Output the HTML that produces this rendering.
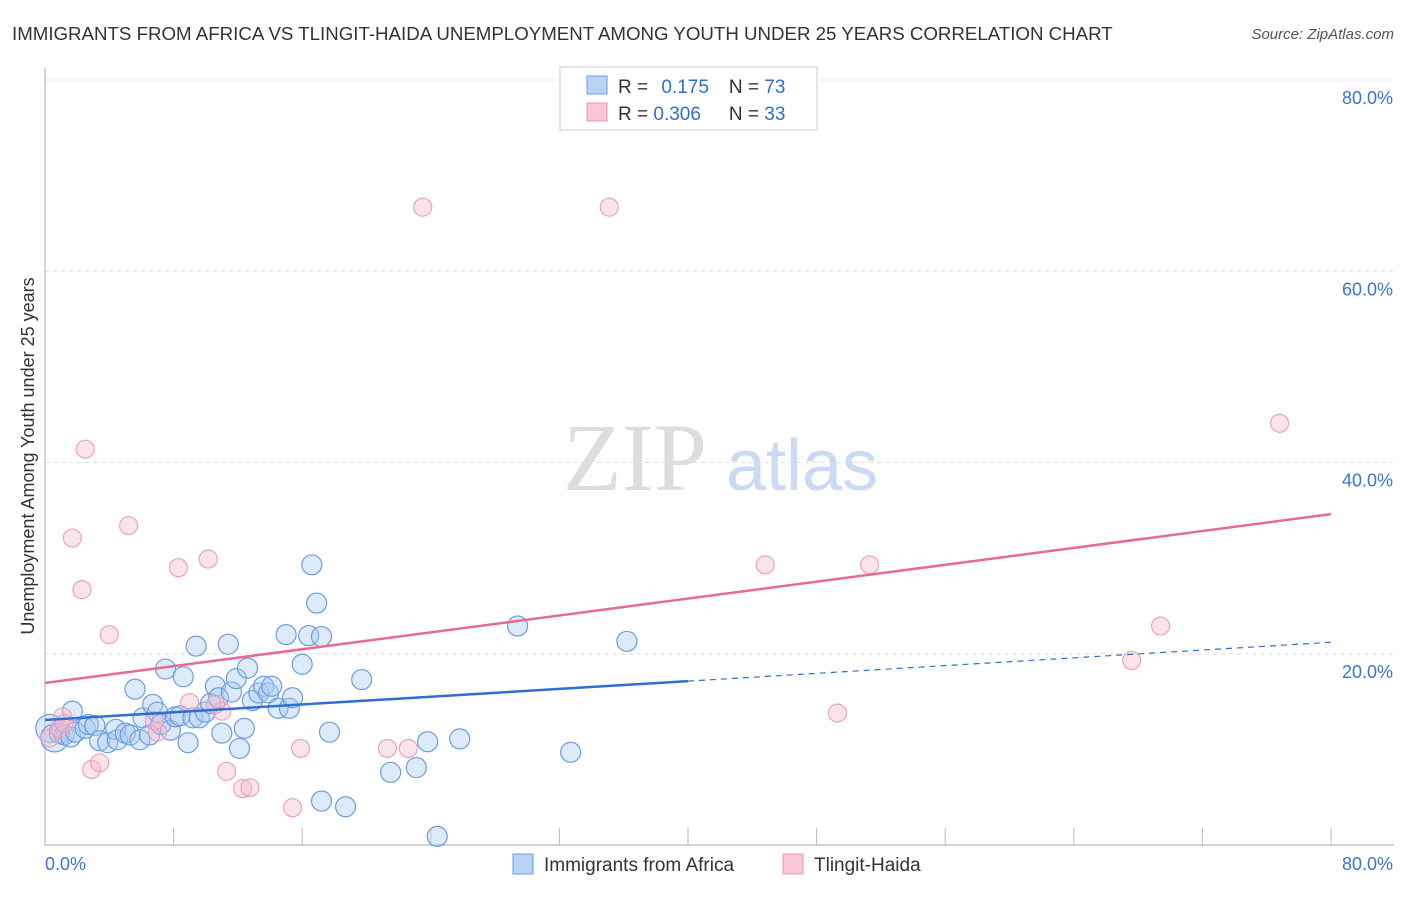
<!DOCTYPE html>
<html><head><meta charset="utf-8"><style>
body{margin:0;background:#fff;font-family:"Liberation Sans",sans-serif}
</style></head><body>
<svg id="chart" width="1406" height="892" xmlns="http://www.w3.org/2000/svg" font-family="Liberation Sans, sans-serif">
<text x="12" y="40" font-size="18.7" fill="#333">IMMIGRANTS FROM AFRICA VS TLINGIT-HAIDA UNEMPLOYMENT AMONG YOUTH UNDER 25 YEARS CORRELATION CHART</text>
<text x="1394" y="39" font-size="15" fill="#555" font-style="italic" text-anchor="end">Source: ZipAtlas.com</text>
<g>
<text x="635" y="490" font-size="96" fill="#ddd" font-family="Liberation Serif, serif" text-anchor="middle">ZIP</text>
<text x="802" y="490" font-size="72" fill="#c9daf2" text-anchor="middle">atlas</text>
</g>
<g id="grid"></g>
<g id="axes"></g>
<g id="marks"></g>
<g id="lines"></g>
<g>
<rect x="560" y="67" width="257" height="63" fill="#fff" stroke="#ccc"/>
<rect x="587" y="76" width="20" height="18" fill="#b9d3f5" stroke="#6d9ee5"/>
<rect x="587" y="103" width="20" height="18" fill="#f9c6d5" stroke="#ec94b0"/>
<text x="618" y="93" font-size="19" fill="#333">R = <tspan fill="#2f6fd1" dx="8">0.175</tspan><tspan dx="20" fill="#333">N = </tspan><tspan fill="#2f6fd1">73</tspan></text>
<text x="618" y="120" font-size="19" fill="#333">R = <tspan fill="#2f6fd1">0.306</tspan><tspan dx="28" fill="#333">N = </tspan><tspan fill="#2f6fd1">33</tspan></text>
</g>
<g>
<rect x="513" y="854" width="20" height="20" fill="#b9d3f5" stroke="#6d9ee5"/>
<text x="544" y="871" font-size="19" fill="#333">Immigrants from Africa</text>
<rect x="783" y="854" width="20" height="20" fill="#f9c6d5" stroke="#ec94b0"/>
<text x="814" y="871" font-size="19" fill="#333">Tlingit-Haida</text>
</g>
<text transform="translate(34,456) rotate(-90)" font-size="18" fill="#333" text-anchor="middle">Unemployment Among Youth under 25 years</text>
</svg>
<script>
const yTicks=[20,40,60,80];
const yTickLabels=["20.0%","40.0%","60.0%","80.0%"];
const blueX=[0.3,0.6,0.9,1.2,1.6,1.7,1.9,2.5,2.7,3.1,3.4,3.9,4.4,4.5,5.0,5.3,5.6,5.9,6.1,6.5,6.7,7.0,7.2,7.5,7.8,8.1,8.4,8.6,8.9,9.2,9.4,9.6,9.97,10.3,10.6,10.8,11.0,11.4,11.6,11.9,12.1,12.4,12.6,12.9,13.3,13.6,13.9,14.1,14.5,15.0,15.2,15.4,16.0,16.4,16.6,16.9,17.2,17.2,17.7,18.7,19.7,21.5,23.1,23.8,24.4,25.8,29.4,32.7,36.2];
const blueY=[12.2,11.2,11.7,11.5,11.3,14.0,11.8,12.2,12.6,12.5,10.9,10.7,12.1,11.0,11.7,11.5,16.3,11.0,13.3,11.5,14.7,13.9,12.6,18.4,12.0,13.4,13.5,17.6,10.7,13.3,20.8,13.3,13.9,14.8,16.6,15.4,11.7,21.0,16.0,17.4,10.1,12.2,18.5,15.1,15.9,16.6,15.9,16.6,14.3,22.0,14.3,15.4,18.9,21.9,29.3,25.3,4.6,21.8,11.8,4.0,17.3,7.6,8.1,10.8,0.9,11.1,22.9,9.7,21.3];
const pinkX=[0.3,1.1,1.7,2.3,2.5,2.9,3.4,4.0,5.2,7.0,8.3,9.0,10.15,11.0,11.3,12.3,12.75,15.4,15.9,21.3,22.6,23.5,35.1,44.8,49.3,51.3,67.6,69.4,76.8,0.9,6.8,1.2,10.6];
const pinkY=[11.2,13.4,32.1,26.7,41.4,7.9,8.6,22.0,33.4,11.8,29.0,14.9,29.9,14.0,7.7,5.9,6.0,3.9,10.1,10.1,10.1,66.7,66.7,29.3,13.8,29.3,19.3,22.9,44.1,12.2,13.0,12.7,14.7];
const blueSize=[14,14,10,10,10,10,10,10,10,10,10,10,10,10,10,10,10,10,10,10,10,10,10,10,10,10,10,10,10,10,10,10,10,10,10,10,10,10,10,10,10,10,10,10,10,10,10,10,10,10,10,10,10,10,10,10,10,10,10,10,10,10,10,10,10,10,10,10,10];
const blueTrend=[13.07,21.2];
const pinkTrend=[16.94,34.6];
const NS="http://www.w3.org/2000/svg";
const X=v=>45+v*(1331-45)/80;
const Y=v=>845-v*(845-80)/80;
function mk(t,a,p){const e=document.createElementNS(NS,t);for(const k in a)e.setAttribute(k,a[k]);p.appendChild(e);return e;}
const grid=document.getElementById('grid'),axes=document.getElementById('axes'),marks=document.getElementById('marks'),lines=document.getElementById('lines');
yTicks.forEach((t,i)=>{
 const g=mk('line',{x1:45,x2:1394,y1:Y(t),y2:Y(t),stroke:'#ddd','stroke-dasharray':'4,4'},grid);
 
 
 const l=mk('text',{x:1393,y:Y(t)+24,'font-size':18,fill:'#3a74d4','text-anchor':'end'},axes);
 l.textContent=yTickLabels[i];
 
 
});
const ax=mk('line',{x1:45,x2:45,y1:68,y2:845,stroke:'#aaa'},axes);


const bx=mk('line',{x1:45,x2:1394,y1:845,y2:845,stroke:'#aaa'},axes);


for(let i=1;i<=10;i++){const tk=mk('line',{x1:X(i*8),x2:X(i*8),y1:828,y2:845,stroke:'#bbb'},axes);
 
 }
const x0=mk('text',{x:45,y:870,'font-size':18,fill:'#3a74d4'},axes);x0.textContent='0.0%';


const x1=mk('text',{x:1393,y:870,'font-size':18,fill:'#3a74d4','text-anchor':'end'},axes);x1.textContent='80.0%';


blueX.forEach((v,i)=>{const c=mk('circle',{cx:X(v),cy:Y(blueY[i]),r:blueSize[i]||10,fill:'rgba(170,202,242,0.4)',stroke:'#6a9de2','stroke-width':1.2},marks);
 
 });
pinkX.forEach((v,i)=>{const c=mk('circle',{cx:X(v),cy:Y(pinkY[i]),r:9,fill:'rgba(246,186,205,0.4)',stroke:'#ef9bb7','stroke-width':1.1},marks);
 
 });
const bAt=x=>blueTrend[0]+(blueTrend[1]-blueTrend[0])*x/80;
const l1=mk('line',{x1:X(0),y1:Y(bAt(0)),x2:X(40),y2:Y(bAt(40)),stroke:'#2f6fd1','stroke-width':2.5},lines);


const l2=mk('line',{x1:X(40),y1:Y(bAt(40)),x2:X(80),y2:Y(bAt(80)),stroke:'#2f6fd1','stroke-width':1.2,'stroke-dasharray':'6,5'},lines);


const l3=mk('line',{x1:X(0),y1:Y(pinkTrend[0]),x2:X(80),y2:Y(pinkTrend[1]),stroke:'#e76a95','stroke-width':2.5},lines);


</script>
</body></html>
